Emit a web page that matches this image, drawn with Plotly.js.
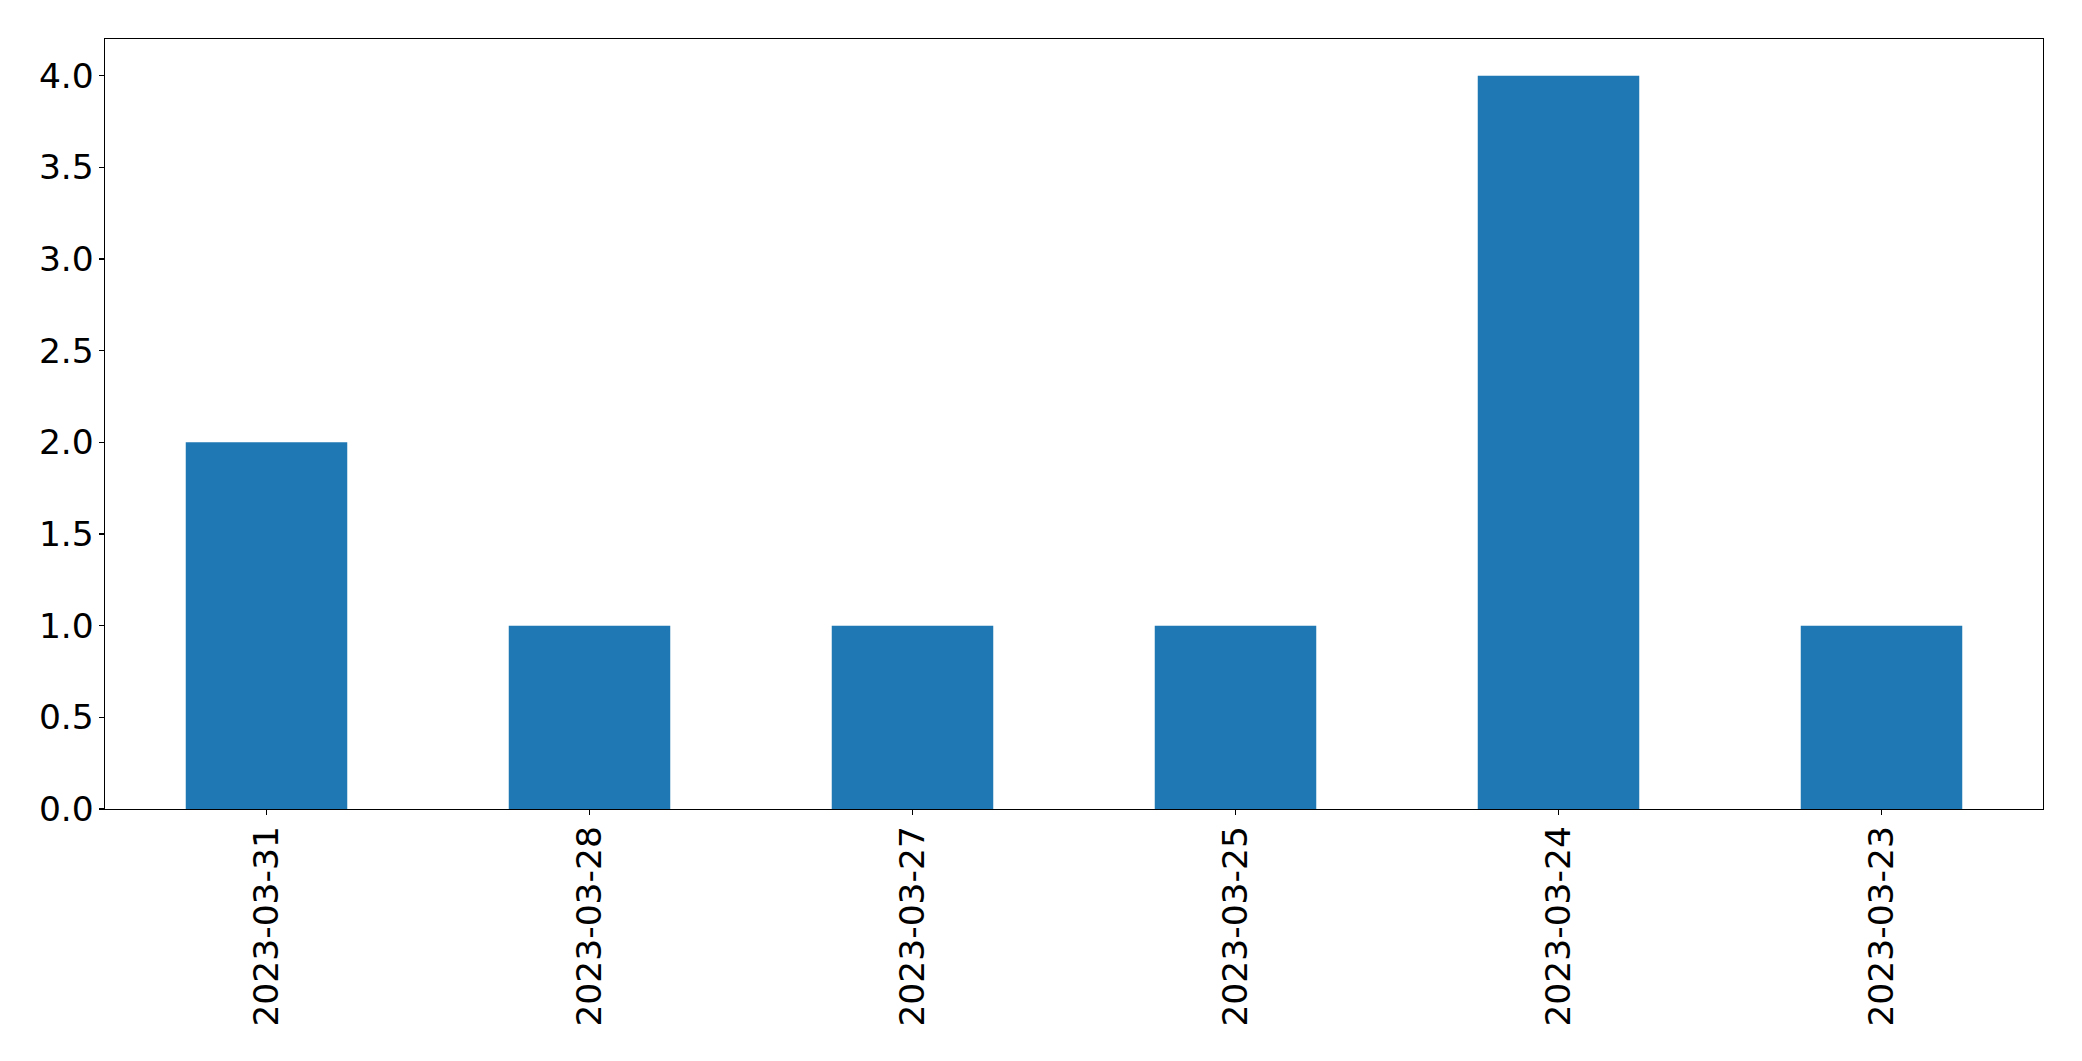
<!DOCTYPE html>
<html>
<head>
<meta charset="utf-8">
<script src="https://cdn.plot.ly/plotly-3.0.1.min.js"></script>
<style>html,body{margin:0;padding:0;background:#fff;}#chart{width:2082px;height:1061px;}</style>
</head>
<body>
<div id="chart"></div>
<script>
const dates = ["2023-03-31", "2023-03-28", "2023-03-27", "2023-03-25", "2023-03-24", "2023-03-23"];
const counts = [2, 1, 1, 1, 4, 1];
const yTicks = [0, 0.5, 1, 1.5, 2, 2.5, 3, 3.5, 4];
const yTickText = ["0.0", "0.5", "1.0", "1.5", "2.0", "2.5", "3.0", "3.5", "4.0"];

const font = {family: "DejaVu Sans", size: 34.5, color: "#000"};

Plotly.newPlot("chart", [{
  type: "bar",
  x: dates,
  y: counts,
  width: 0.5,
  marker: {color: "#1f77b4", line: {width: 0}},
  hoverinfo: "x+y"
}], {
  width: 2082,
  height: 1061,
  margin: {l: 105, r: 39, t: 39, b: 252, pad: 0},
  paper_bgcolor: "#fff",
  plot_bgcolor: "#fff",
  showlegend: false,
  font: font,
  xaxis: {
    type: "category",
    categoryorder: "array",
    categoryarray: dates,
    range: [-0.5, 5.5],
    tickangle: -90,
    ticks: "outside",
    ticklen: 5,
    tickwidth: 1.2,
    tickcolor: "#000",
    tickfont: font,
    ticklabelstandoff: -3,
    showline: true,
    linecolor: "#000",
    linewidth: 1.3,
    mirror: true,
    showgrid: false,
    zeroline: false
  },
  yaxis: {
    range: [0, 4.2],
    tickmode: "array",
    tickvals: yTicks,
    ticktext: yTickText,
    ticks: "outside",
    ticklen: 5,
    tickwidth: 1.2,
    tickcolor: "#000",
    tickfont: font,
    ticklabelstandoff: -2,
    showline: true,
    linecolor: "#000",
    linewidth: 1.3,
    mirror: true,
    showgrid: false,
    zeroline: false
  }
}, {displayModeBar: false, staticPlot: true});
</script>
</body>
</html>
